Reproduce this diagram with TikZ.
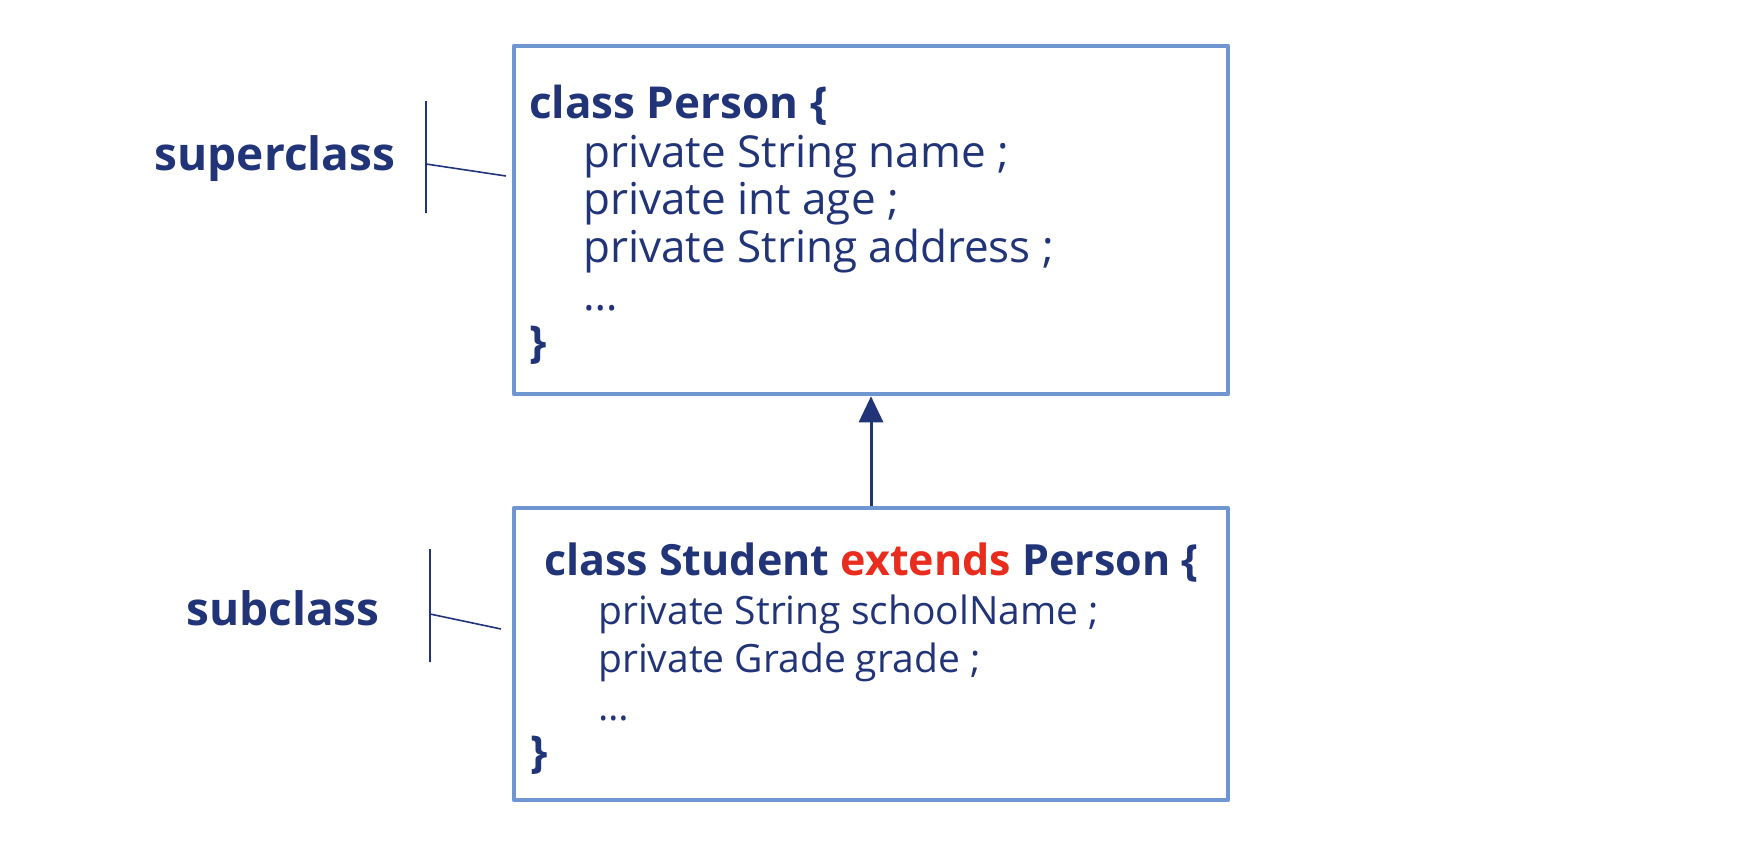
\documentclass[tikz,border=0pt]{standalone}
\usepackage{fontspec}
\setmainfont{Open Sans}
\usetikzlibrary{arrows.meta}
\definecolor{navy}{RGB}{33,52,120}
\definecolor{boxblue}{RGB}{112,150,210}
\definecolor{kwred}{RGB}{232,45,30}
\begin{document}
\begin{tikzpicture}[line join=round,x=1pt,y=-1pt,>={Triangle[width=24pt,length=26pt]}]
	\tikzset{classbox/.style={draw=boxblue,line width=4.5pt,rectangle,inner sep=0pt},
		code/.style={anchor=base west,inner sep=0pt,text=navy,font=\fontsize{44}{50}\selectfont},
		head/.style={anchor=base west,inner sep=0pt,text=navy,font=\fontsize{44}{50}\selectfont\bfseries},
		lbl/.style={anchor=base,inner sep=0pt,text=navy,font=\fontsize{46}{52}\selectfont\bfseries}}
	\useasboundingbox (0,0) rectangle (1754,846);
	% the two classes
	\node[classbox,minimum width=714pt,minimum height=348pt] (person) at (871,220) {};
	\node[classbox,minimum width=714pt,minimum height=292pt] (student) at (871,654) {};
	\draw[->,navy,line width=3pt] (student.north) -- (person.south);
	% superclass body
	\node[head] (ptitle) at (529,118) {class Person \{};
	\foreach \y/\t [count=\i] in {167/private String name ;,214/private int age ;,262/private String address ;,310/…}
	\node[code] (pm\i) at (583,\y) {\t};
	\node[head] (pend) at (529,357) {\}};
	% subclass body
	\node[head,font=\fontsize{43}{50}\selectfont\bfseries] (stitle) at (544,575) {class Student \textcolor{kwred}{extends} Person \{};
	\foreach \y/\t [count=\i] in {624/private String schoolName ;,672/private Grade grade ;,720/…}
	\node[code,font=\fontsize{39}{46}\selectfont] (sm\i) at (598,\y) {\t};
	\node[head] (send) at (530,767) {\}};
	% labels and brackets
	\node[lbl] (super) at (275,170) {superclass};
	\node[lbl] (sub) at (283,625) {subclass};
	\coordinate (supTop) at (426,101); \coordinate (supBot) at (426,213);
	\coordinate (supMid) at (426,164); \coordinate (supEnd) at (506,176);
	\coordinate (subTop) at (430,549); \coordinate (subBot) at (430,662);
	\coordinate (subMid) at (430,614); \coordinate (subEnd) at (501,629);
	\draw[navy,line width=1.6pt] (supTop) -- (supBot) (supMid) -- (supEnd);
	\draw[navy,line width=1.6pt] (subTop) -- (subBot) (subMid) -- (subEnd);
\end{tikzpicture}
\end{document}
